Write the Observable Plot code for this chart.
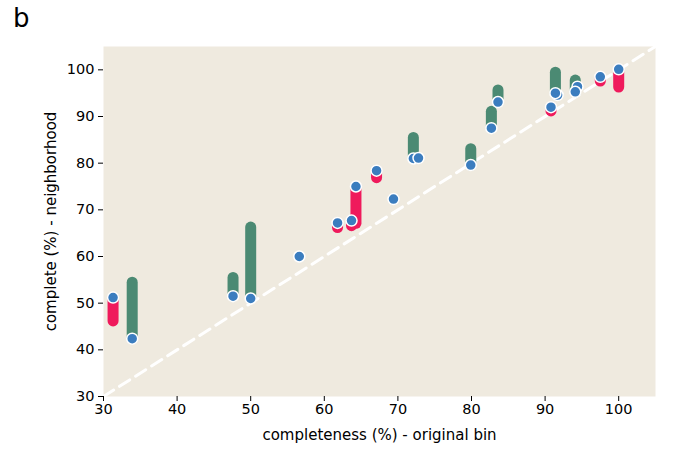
<!DOCTYPE html>
<html><head><meta charset="utf-8">
<script src="https://cdn.jsdelivr.net/npm/d3@7"></script>
<script src="https://cdn.jsdelivr.net/npm/@observablehq/plot@0.6"></script>
<style>
body{margin:0;background:#fff;font-family:"DejaVu Sans",sans-serif;}
#wrap{position:relative;width:680px;height:452px;}
#panel{position:absolute;left:13px;top:5px;font-size:26px;line-height:1;color:#000;}
</style>
</head><body><div id="wrap"><div id="panel">b</div></div>
<script>
// completeness (%) in original bin
const origBin      = [31.3, 33.9, 47.6, 50.0, 56.6, 61.8, 63.7, 64.3, 67.1, 69.4, 72.1, 72.8, 79.9, 82.7, 83.6, 90.8, 91.7, 91.4, 94.4, 94.1, 97.5, 100.0];
// completeness (%) in neighborhood (blue dots)
const neighborhood = [51.2, 42.4, 51.5, 51.0, 60.0, 67.2, 67.7, 75.0, 78.4, 72.3, 81.0, 81.1, 79.6, 87.5, 93.1, 92.0, 94.6, 95.0, 96.4, 95.3, 98.5, 100.1];
// other end of the change bar
const barEnd       = [46.2, 54.5, 55.5, 66.3, 60.0, 66.2, 66.6, 67.1, 76.9, 72.3, 85.5, 81.1, 83.1, 91.1, 95.7, 91.2, 94.6, 99.5, 96.4, 97.8, 97.6, 96.3];
const xTicks = [30, 40, 50, 60, 70, 80, 90, 100];
const yTicks = [30, 40, 50, 60, 70, 80, 90, 100];

const rows = origBin.map((x, i) => ({x, y: neighborhood[i], y2: barEnd[i]}));
const up = rows.filter(d => d.y2 > d.y);
const down = rows.filter(d => d.y2 < d.y);

const chart = Plot.plot({
  width: 680, height: 452,
  marginLeft: 103, marginRight: 25, marginTop: 46, marginBottom: 56,
  x: {domain: [30, 105]},
  y: {domain: [30, 105]},
  style: {fontFamily: "DejaVu Sans", fontSize: "14.5px", background: "transparent", color: "#000"},
  marks: [
    Plot.frame({fill: "#efeadf", stroke: null}),
    Plot.line([[30, 30], [105, 105]], {stroke: "white", strokeWidth: 3, strokeDasharray: "12,7"}),
    Plot.link(up, {x1: "x", x2: "x", y1: "y", y2: "y2", stroke: "#4b8a73", strokeWidth: 11, strokeLinecap: "round"}),
    Plot.link(down, {x1: "x", x2: "x", y1: "y", y2: "y2", stroke: "#ef1a5c", strokeWidth: 11, strokeLinecap: "round"}),
    Plot.dot(rows, {x: "x", y: "y", r: 5.5, fill: "#3b7dbf", stroke: "white", strokeWidth: 1.5}),
    Plot.axisX({ticks: xTicks, tickSize: 5, tickPadding: 2, label: null, fontSize: 14.5}),
    Plot.axisY({ticks: yTicks, tickSize: 5, tickPadding: 4, label: null, fontSize: 14.5}),
    Plot.text(["completeness (%) - original bin"], {frameAnchor: "bottom", dy: 43, fontSize: 15, lineAnchor: "bottom", text: d => d}),
    Plot.text(["complete (%) - neighborhood"], {frameAnchor: "left", dx: -52, rotate: -90, fontSize: 15, textAnchor: "middle", lineAnchor: "middle", text: d => d})
  ]
});
document.getElementById("wrap").appendChild(chart);
</script>
</body></html>
